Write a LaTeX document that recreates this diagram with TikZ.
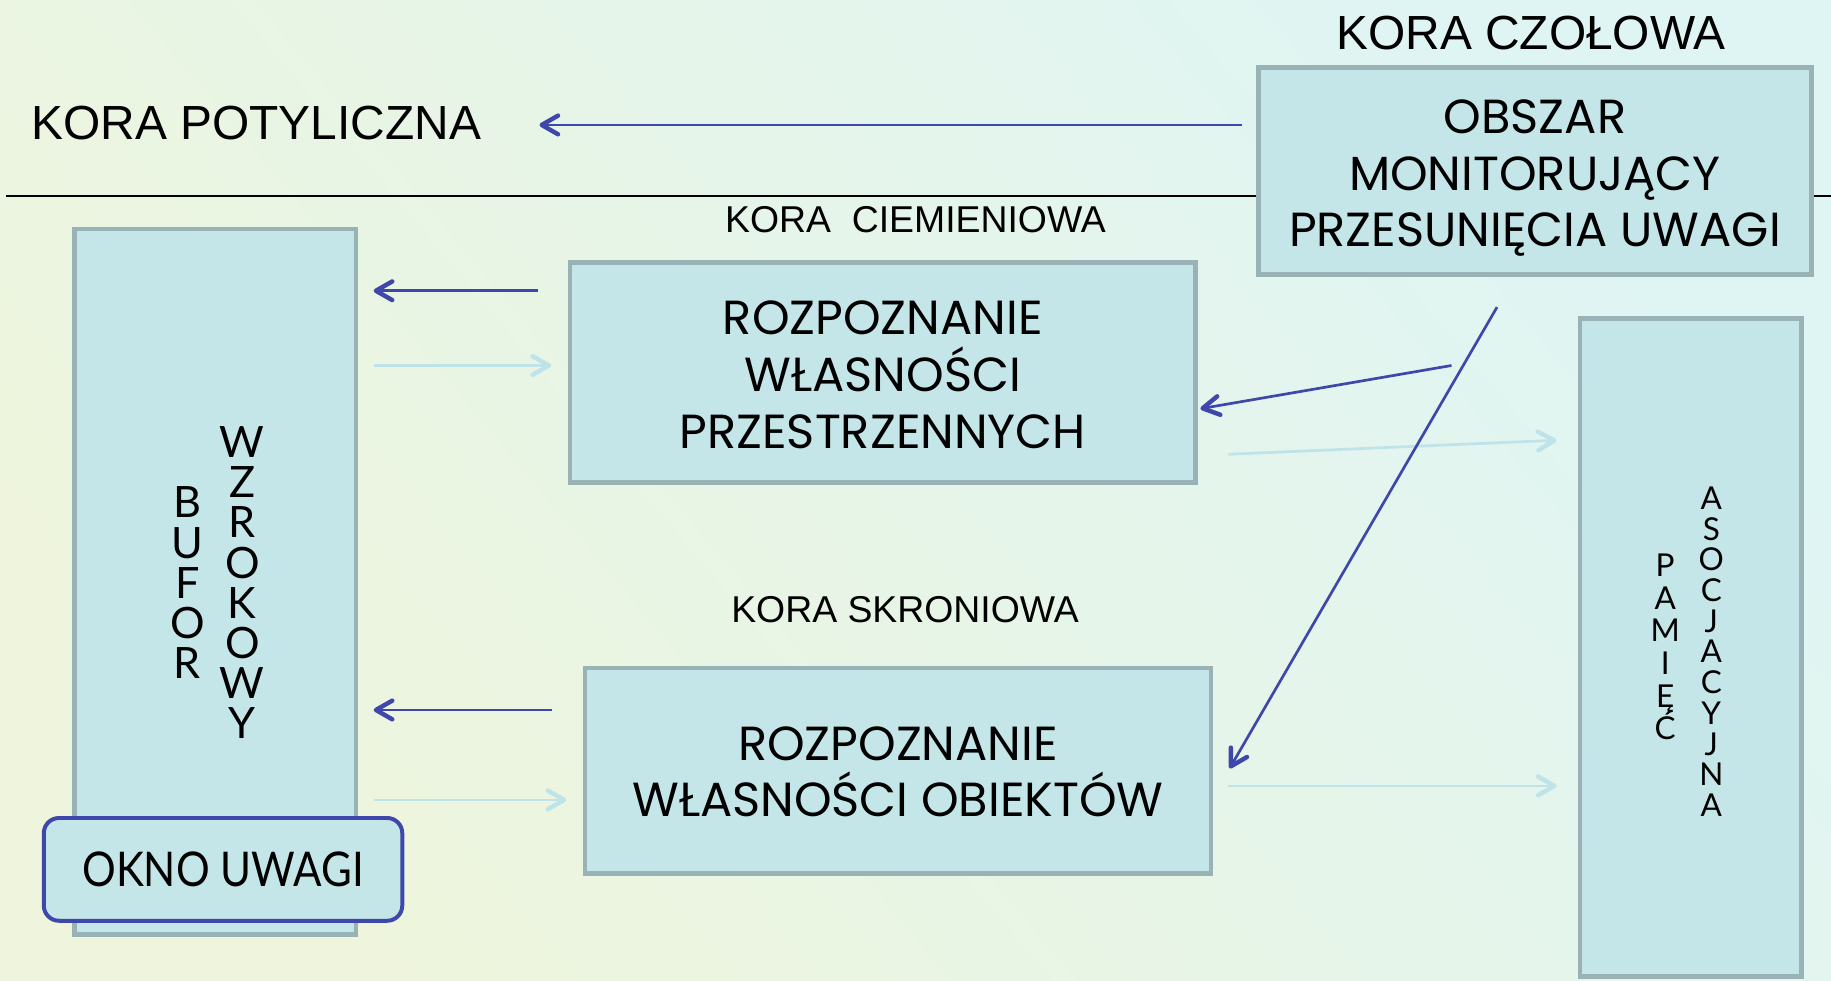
\documentclass[tikz,border=0pt]{standalone}
\usepackage{fontspec}
\setmainfont{Liberation Sans}
\newfontfamily\boxfont{Poppins}
\newfontfamily\stackfont{Lato}
\newfontfamily\windowfont[FakeStretch=0.88]{Lato}
\usetikzlibrary{arrows.meta}
\definecolor{bgA}{HTML}{EEF5DC}
\definecolor{bgB}{HTML}{DFF5F4}
\definecolor{boxfill}{HTML}{C4E6E8}
\definecolor{boxedge}{HTML}{98B2B6}
\definecolor{darkarrow}{HTML}{3F47AB}
\definecolor{paleline}{HTML}{BEE3E8}
% fixed pitch for letters stacked one per line
\newcommand\fixedpitch{\lineskiplimit=-100pt\relax}

\begin{document}
\begin{tikzpicture}[x=1pt,y=-1pt,
  area/.style={draw=boxedge, line width=4pt, fill=boxfill, inner sep=0pt},
  areatext/.style={inner sep=0pt, align=center,
    font=\boxfont\fontsize{41}{48.5}\selectfont},
  heading/.style={inner sep=0pt, font=\fontsize{#1}{#1}\selectfont},
  stack/.style={inner sep=0pt, align=center},
  tip/.style={-{Straight Barb[length=14pt,width=16pt,line width=3.8pt,round]}},
  darr/.style={draw=darkarrow, line width=2.3pt, tip},
  larr/.style={draw=paleline, line width=2.3pt, tip}]

% page and background
\useasboundingbox (0,0) rectangle (1568,840);
\shade[bottom color=bgA, top color=bgB, shading angle=-50] (0,0) rectangle (1568,840);

% boundary between occipital and lower areas
\draw[line width=1.3pt] (5,168) -- (1568,168);

% region labels
\node[heading=41] (potyl) at (219.5,105) {KORA POTYLICZNA};
\node[heading=41] (czol) at (1311,28) {KORA CZOŁOWA};
\node[heading=32] (ciem) at (784,188) {KORA\ \ CIEMIENIOWA};
\node[heading=32] (skron) at (775,522) {KORA SKRONIOWA};

% processing areas
\node[area, minimum width=473pt, minimum height=177pt] (monitor) at (1314.5,146.5) {};
\node[area, minimum width=241pt, minimum height=604pt] (bufor) at (184.5,498) {};
\node[area, minimum width=536pt, minimum height=188pt] (spat) at (756,319) {};
\node[area, minimum width=536pt, minimum height=176pt] (obj) at (769,660) {};
\node[area, minimum width=190pt, minimum height=563pt] (mem) at (1448,554.5) {};

% area captions
\node[areatext, yshift=-6pt] (monitorText) at (monitor.center)
  {OBSZAR\\MONITORUJĄCY\\PRZESUNIĘCIA UWAGI};
\node[areatext, yshift=-2pt] (spatText) at (spat.center)
  {ROZPOZNANIE\\WŁASNOŚCI\\PRZESTRZENNYCH};
\node[areatext, yshift=-1pt] (objText) at (obj.center)
  {ROZPOZNANIE\\WŁASNOŚCI OBIEKTÓW};

% stacked lettering
\node[stack, font={\stackfont\fontsize{37}{34.4}\selectfont\fixedpitch}]
  (buforA) at (160.5,499) {B\\U\\F\\O\\R};
\node[stack, font={\stackfont\fontsize{37}{34.4}\selectfont\fixedpitch}]
  (buforB) at (207.5,499) {W\\Z\\R\\O\\K\\O\\W\\Y};
\node[stack, font={\stackfont\fontsize{27}{28}\selectfont\fixedpitch}]
  (memA) at (1426,554) {P\\A\\M\\I\\Ę\\Ć};
\node[stack, font={\stackfont\fontsize{27}{26.3}\selectfont\fixedpitch}]
  (memB) at (1465.5,558) {A\\S\\O\\C\\J\\A\\C\\Y\\J\\N\\A};

% attention window
\node[draw=darkarrow, line width=3.4pt, fill=boxfill, rounded corners=13pt,
  minimum width=307pt, minimum height=88pt, inner sep=0pt,
  font=\windowfont\fontsize{41}{41}\selectfont] (okno) at (191,744.5) {OKNO UWAGI};

% connector end points
\coordinate (m1) at (1064,107);  \coordinate (p1) at (462,107);
\coordinate (s1) at (461,249);   \coordinate (b1) at (320,249);
\coordinate (b2) at (320,313);   \coordinate (s2) at (472,313);
\coordinate (m2) at (1243,313);  \coordinate (s3) at (1028,350);
\coordinate (s4) at (1052,389);  \coordinate (a1) at (1333,377);
\coordinate (m3) at (1282,263);  \coordinate (o1) at (1053,658);
\coordinate (o2) at (473,608);   \coordinate (b3) at (320,608);
\coordinate (b4) at (320,685);   \coordinate (o3) at (485,685);
\coordinate (o4) at (1052,673);  \coordinate (a2) at (1333,673);

% connectors
\draw[darr] (m1) -- (p1);
\draw[darr] (s1) -- (b1);
\draw[larr] (b2) -- (s2);
\draw[darr] (m2) -- (s3);
\draw[larr] (s4) -- (a1);
\draw[darr] (m3) -- (o1);
\draw[darr] (o2) -- (b3);
\draw[larr] (b4) -- (o3);
\draw[larr] (o4) -- (a2);
\end{tikzpicture}
\end{document}
